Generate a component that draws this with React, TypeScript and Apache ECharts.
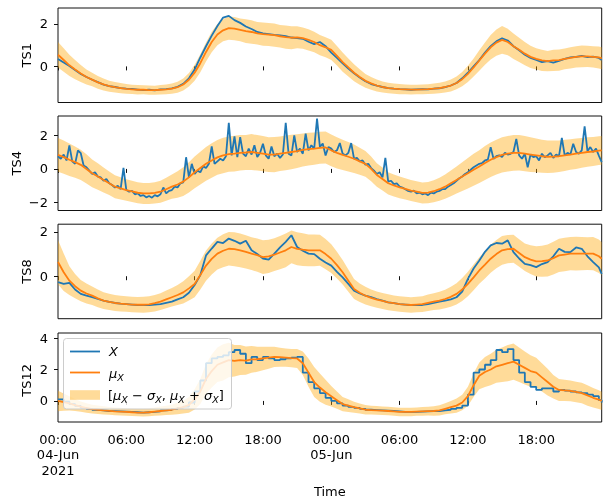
import React, { useEffect, useRef } from "react";
import * as echarts from "echarts";

// time in hours since 2021-06-04 00:00 (30-min samples, last at 23:45 on 05-Jun)
const TIME_H = Array.from({ length: 97 }, (_, i) => Math.min(i * 0.5, 47.75));
// 15-min timestamps (used for the spiky TS4 observations)
const TIME_Q = Array.from({ length: 192 }, (_, i) => i * 0.25);
const X_TICKS = [0, 6, 12, 18, 24, 30, 36, 42];
const X_TICK_LABELS = ["00:00\n04-Jun\n2021", "06:00", "12:00", "18:00", "00:00\n05-Jun", "06:00", "12:00", "18:00"];
const PANEL_NAMES = ["TS1", "TS4", "TS8", "TS12"];
const Y_RANGES = [[-1.7, 2.75], [-2.46, 3.13], [-1.92, 2.35], [-1.34, 4.32]];
const Y_TICKS = [[0, 2], [-2, 0, 2], [0, 2], [0, 2, 4]];

const TS1_X = [0.35, 0.18, 0.02, -0.17, -0.36, -0.5, -0.63, -0.74, -0.86, -0.93,
  -0.97, -1.02, -1.05, -1.06, -1.09, -1.12, -1.1, -1.13, -1.08, -1.07,
  -1.03, -0.96, -0.82, -0.56, -0.15, 0.42, 0.95, 1.45, 1.9, 2.3,
  2.38, 2.18, 2.05, 1.88, 1.76, 1.62, 1.56, 1.52, 1.48, 1.46,
  1.42, 1.36, 1.33, 1.3, 1.16, 1.05, 1.15, 0.95, 0.65, 0.4,
  0.14, -0.1, -0.32, -0.52, -0.7, -0.83, -0.91, -0.97, -1.02, -1.05,
  -1.07, -1.08, -1.1, -1.08, -1.07, -1.08, -1.05, -1.03, -0.98, -0.9,
  -0.78, -0.56, -0.3, 0.0, 0.3, 0.65, 0.95, 1.18, 1.32, 1.22,
  0.95, 0.76, 0.55, 0.4, 0.3, 0.2, 0.25, 0.18, 0.26, 0.35,
  0.42, 0.45, 0.5, 0.44, 0.46, 0.4, 0.3];
const TS1_MU = [0.55, 0.3, 0.05, -0.15, -0.33, -0.5, -0.62, -0.75, -0.85, -0.93,
  -0.98, -1.02, -1.06, -1.08, -1.1, -1.1, -1.12, -1.12, -1.1, -1.08,
  -1.05, -0.98, -0.85, -0.63, -0.3, 0.15, 0.68, 1.15, 1.5, 1.7,
  1.8, 1.78, 1.72, 1.66, 1.62, 1.56, 1.52, 1.5, 1.47, 1.42,
  1.38, 1.35, 1.37, 1.33, 1.25, 1.15, 1.0, 0.9, 0.78, 0.5,
  0.2, -0.05, -0.3, -0.5, -0.68, -0.8, -0.9, -0.97, -1.02, -1.05,
  -1.07, -1.08, -1.09, -1.09, -1.08, -1.07, -1.05, -1.02, -0.97, -0.9,
  -0.78, -0.6, -0.35, -0.05, 0.28, 0.6, 0.9, 1.12, 1.25, 1.15,
  0.95, 0.78, 0.6, 0.45, 0.35, 0.28, 0.25, 0.28, 0.3, 0.35,
  0.4, 0.45, 0.47, 0.47, 0.45, 0.42, 0.38];
const TS1_SIG = [0.6, 0.55, 0.5, 0.45, 0.4, 0.35, 0.32, 0.3, 0.28, 0.26,
  0.25, 0.24, 0.23, 0.22, 0.22, 0.21, 0.22, 0.21, 0.22, 0.23,
  0.24, 0.26, 0.28, 0.32, 0.38, 0.42, 0.45, 0.48, 0.5, 0.52,
  0.55, 0.55, 0.54, 0.56, 0.55, 0.53, 0.55, 0.54, 0.55, 0.53,
  0.55, 0.54, 0.52, 0.5, 0.5, 0.48, 0.48, 0.47, 0.48, 0.46,
  0.45, 0.42, 0.4, 0.36, 0.32, 0.3, 0.28, 0.26, 0.25, 0.24,
  0.24, 0.23, 0.23, 0.22, 0.23, 0.23, 0.24, 0.25, 0.26, 0.28,
  0.3, 0.34, 0.38, 0.42, 0.48, 0.52, 0.58, 0.62, 0.65, 0.62,
  0.6, 0.57, 0.55, 0.52, 0.5, 0.5, 0.48, 0.5, 0.5, 0.49,
  0.5, 0.5, 0.51, 0.5, 0.5, 0.52, 0.52];

// TS4 observations at 15-min resolution
const TS4_X = [0.75, 0.6, 0.85, 0.5, 1.39, 0.45, 0.3, 1.09,
  0.93, 0.2, 0.1, -0.1, -0.3, -0.2, -0.45, -0.5,
  -0.7, -0.6, -0.85, -0.95, -1.1, -1.0, -1.2, 0.06,
  -1.25, -1.35, -1.3, -1.5, -1.45, -1.6, -1.55, -1.68,
  -1.6, -1.7, -1.55, -1.62, -1.5, -1.1, -1.45, -1.3,
  -1.25, -1.05, -1.1, -0.85, -0.8, 0.69, -0.5, 0.3,
  -0.3, -0.1, -0.2, 0.15, 0.05, 0.3, 1.33, 0.3,
  0.45, 0.6, 0.5, 0.75, 2.72, 0.8, 1.93, 0.7,
  1.88, 0.9, 0.75, 1.2, 0.85, 1.4, 0.7, 0.95,
  1.49, 0.8, 0.6, 1.33, 0.75, 0.9, 0.65, 0.85,
  2.72, 0.9, 0.8, 1.98, 1.0, 1.2, 0.9, 2.08,
  1.1, 1.4, 1.2, 2.97, 1.3, 1.5, 0.79, 1.3,
  1.2, 1.0, 1.1, 1.53, 0.9, 0.8, 0.95, 1.53,
  0.6, 0.65, 0.45, 0.5, 0.25, 0.3, 0.05, -0.1,
  -0.3, -0.2, -0.5, 0.65, -0.75, -0.7, -0.9, -0.85,
  -1.05, -1.1, -1.2, -1.3, -1.35, -1.28, -1.45, -1.4,
  -1.5, -1.45, -1.55, -1.4, -1.45, -1.35, -1.3, -1.2,
  -1.2, -1.05, -0.95, -0.85, -0.7, -0.55, -0.45, -0.3,
  -0.2, -0.05, 0.1, 0.2, 0.3, 0.35, 0.5, 0.55,
  1.29, 0.6, 0.75, 0.8, 0.7, 0.95, 0.85, 0.89,
  1.0, 1.78, 0.8, 0.6, 0.9, 0.1, 0.85, 0.7,
  0.75, 0.5, 0.9, 0.69, 0.8, 0.95, 0.65, 0.85,
  0.75, 1.84, 0.8, 0.95, 0.85, 1.49, 1.0, 0.9,
  1.1, 2.52, 1.05, 1.29, 1.0, 1.2, 0.79, 0.4];
const TS4_MU = [0.83, 0.7, 0.54, 0.4, 0.24, 0.0, -0.26, -0.45, -0.65, -0.85,
  -1.05, -1.15, -1.25, -1.33, -1.41, -1.45, -1.45, -1.42, -1.35, -1.2,
  -1.05, -0.92, -0.75, -0.5, -0.2, 0.05, 0.3, 0.5, 0.68, 0.8,
  0.87, 0.9, 0.95, 0.97, 1.0, 0.95, 0.9, 0.85, 0.85, 0.9,
  0.95, 1.0, 1.05, 1.12, 1.17, 1.2, 1.25, 1.27, 1.1, 0.95,
  0.83, 0.72, 0.6, 0.45, 0.3, 0.0, -0.36, -0.6, -0.85, -0.98,
  -1.09, -1.18, -1.28, -1.35, -1.42, -1.4, -1.32, -1.2, -1.05, -0.85,
  -0.65, -0.45, -0.26, -0.05, 0.14, 0.35, 0.54, 0.7, 0.83, 0.9,
  0.95, 0.95, 0.9, 0.85, 0.8, 0.75, 0.72, 0.73, 0.75, 0.8,
  0.85, 0.9, 0.95, 1.0, 1.03, 1.08, 1.1];
const TS4_SIG = [1.0, 0.98, 0.96, 0.93, 0.9, 0.86, 0.82, 0.78, 0.74, 0.7,
  0.68, 0.66, 0.64, 0.63, 0.62, 0.62, 0.62, 0.63, 0.65, 0.68,
  0.72, 0.78, 0.85, 0.9, 0.94, 0.97, 1.0, 1.02, 1.03, 1.05,
  1.04, 1.06, 1.05, 1.04, 1.06, 1.05, 1.04, 1.03, 1.04, 1.02,
  1.03, 1.02, 1.0, 0.98, 0.97, 0.96, 0.95, 0.95, 0.94, 0.92,
  0.9, 0.87, 0.84, 0.8, 0.76, 0.73, 0.7, 0.68, 0.66, 0.65,
  0.64, 0.63, 0.62, 0.62, 0.62, 0.63, 0.65, 0.68, 0.72, 0.76,
  0.8, 0.85, 0.9, 0.94, 0.97, 1.0, 1.02, 1.03, 1.04, 1.05,
  1.06, 1.05, 1.04, 1.03, 1.0, 0.98, 0.96, 0.95, 0.93, 0.92,
  0.9, 0.9, 0.88, 0.87, 0.86, 0.85, 0.85];

const TS8_X = [-0.27, -0.35, -0.3, -0.6, -0.8, -0.88, -0.95, -1.03, -1.1, -1.16,
  -1.21, -1.24, -1.26, -1.28, -1.3, -1.31, -1.3, -1.28, -1.26, -1.2,
  -1.15, -1.05, -0.95, -0.75, -0.4, 0.05, 0.94, 1.25, 1.55, 1.5,
  1.7, 1.6, 1.47, 1.6, 1.17, 1.0, 0.8, 0.75, 1.02, 1.3,
  1.55, 1.85, 1.32, 1.15, 1.02, 1.0, 0.79, 0.62, 0.48, 0.2,
  -0.05, -0.35, -0.65, -0.78, -0.88, -0.95, -1.03, -1.1, -1.18, -1.22,
  -1.26, -1.28, -1.3, -1.3, -1.3, -1.26, -1.21, -1.15, -1.1, -1.05,
  -0.95, -0.7, -0.12, 0.35, 0.71, 1.1, 1.39, 1.5, 1.47, 1.62,
  1.09, 0.8, 0.56, 0.5, 0.41, 0.55, 0.64, 0.9, 1.24, 1.1,
  1.09, 1.3, 1.24, 0.9, 0.64, 0.4, 0.1];
const TS8_MU = [0.64, 0.18, -0.2, -0.45, -0.65, -0.78, -0.88, -1.0, -1.1, -1.16,
  -1.21, -1.24, -1.26, -1.28, -1.29, -1.29, -1.27, -1.22, -1.15, -1.05,
  -0.95, -0.85, -0.73, -0.55, -0.35, 0.05, 0.48, 0.78, 1.02, 1.15,
  1.24, 1.22, 1.17, 1.1, 1.02, 0.95, 0.86, 0.9, 0.97, 1.07,
  1.17, 1.32, 1.24, 1.2, 1.17, 1.17, 1.17, 1.0, 0.79, 0.5,
  0.18, -0.2, -0.58, -0.75, -0.88, -0.98, -1.06, -1.12, -1.18, -1.22,
  -1.26, -1.28, -1.3, -1.28, -1.26, -1.2, -1.15, -1.1, -1.03, -0.93,
  -0.8, -0.6, -0.35, -0.05, 0.26, 0.52, 0.79, 1.0, 1.17, 1.22,
  1.24, 1.05, 0.86, 0.75, 0.67, 0.68, 0.71, 0.82, 0.94, 0.98,
  1.02, 1.02, 1.02, 1.02, 1.02, 0.9, 0.79];
const TS8_SIG = [1.0, 0.85, 0.65, 0.55, 0.48, 0.45, 0.42, 0.4, 0.38, 0.37,
  0.36, 0.36, 0.35, 0.35, 0.35, 0.36, 0.36, 0.37, 0.38, 0.4,
  0.42, 0.45, 0.5, 0.55, 0.6, 0.65, 0.68, 0.7, 0.72, 0.75,
  0.76, 0.77, 0.76, 0.75, 0.74, 0.75, 0.76, 0.75, 0.74, 0.75,
  0.76, 0.74, 0.75, 0.74, 0.72, 0.72, 0.7, 0.68, 0.65, 0.6,
  0.55, 0.5, 0.45, 0.42, 0.4, 0.38, 0.37, 0.36, 0.36, 0.35,
  0.35, 0.35, 0.35, 0.35, 0.36, 0.37, 0.38, 0.4, 0.42, 0.45,
  0.48, 0.52, 0.55, 0.58, 0.6, 0.62, 0.63, 0.64, 0.65, 0.64,
  0.63, 0.62, 0.62, 0.65, 0.68, 0.7, 0.72, 0.74, 0.75, 0.76,
  0.75, 0.76, 0.75, 0.74, 0.75, 0.76, 0.75];

const TS12_X = [0.1, -0.05, -0.2, -0.32, -0.44, -0.5, -0.56, -0.6, -0.64, -0.65,
  -0.66, -0.68, -0.7, -0.72, -0.74, -0.72, -0.7, -0.66, -0.6, -0.56,
  -0.5, -0.44, -0.36, -0.1, 0.6, 1.3, 2.4, 2.7, 2.8, 2.9,
  3.1, 3.24, 3.0, 2.4, 2.8, 2.6, 2.8, 2.7, 2.6, 2.65,
  2.7, 2.75, 2.8, 1.8, 1.2, 0.8, 0.5, 0.2, 0.0, -0.15,
  -0.3, -0.38, -0.44, -0.5, -0.56, -0.58, -0.6, -0.62, -0.64, -0.67,
  -0.7, -0.7, -0.7, -0.68, -0.66, -0.65, -0.64, -0.6, -0.56, -0.5,
  -0.44, -0.3, 0.4, 1.8, 2.0, 2.3, 2.6, 3.24, 3.1, 3.3,
  2.6, 1.8, 1.2, 0.9, 0.7, 0.8, 0.8, 0.6, 0.7, 0.65,
  0.6, 0.55, 0.5, 0.4, 0.3, 0.05, -0.1];
const TS12_MU = [0.0, -0.08, -0.16, -0.26, -0.36, -0.45, -0.52, -0.56, -0.6, -0.63,
  -0.66, -0.68, -0.7, -0.72, -0.74, -0.74, -0.72, -0.68, -0.64, -0.6,
  -0.56, -0.48, -0.4, -0.25, 0.1, 0.6, 1.4, 1.9, 2.3, 2.45,
  2.6, 2.55, 2.6, 2.56, 2.64, 2.65, 2.7, 2.75, 2.8, 2.78,
  2.76, 2.72, 2.7, 2.4, 1.8, 1.2, 0.85, 0.55, 0.3, 0.05,
  -0.2, -0.3, -0.4, -0.48, -0.56, -0.58, -0.6, -0.62, -0.64, -0.67,
  -0.7, -0.7, -0.7, -0.68, -0.66, -0.65, -0.64, -0.6, -0.5, -0.4,
  -0.3, -0.1, 0.3, 1.0, 1.6, 1.84, 2.0, 2.2, 2.3, 2.4,
  2.5, 2.3, 2.1, 1.9, 1.8, 1.5, 1.2, 0.9, 0.7, 0.67,
  0.64, 0.57, 0.5, 0.35, 0.2, 0.08, 0.0];
const TS12_SIG = [0.65, 0.55, 0.45, 0.38, 0.33, 0.3, 0.28, 0.27, 0.26, 0.25,
  0.25, 0.25, 0.24, 0.24, 0.24, 0.25, 0.25, 0.26, 0.28, 0.3,
  0.32, 0.36, 0.4, 0.5, 0.65, 0.8, 0.95, 1.05, 1.1, 1.15,
  1.1, 1.0, 0.95, 0.9, 0.85, 0.8, 0.75, 0.7, 0.65, 0.6,
  0.58, 0.58, 0.6, 0.75, 0.9, 0.95, 0.9, 0.8, 0.65, 0.55,
  0.45, 0.4, 0.35, 0.32, 0.3, 0.28, 0.28, 0.27, 0.27, 0.27,
  0.27, 0.27, 0.27, 0.27, 0.28, 0.28, 0.3, 0.32, 0.35, 0.4,
  0.45, 0.5, 0.6, 0.75, 0.85, 0.95, 1.0, 1.05, 1.1, 1.15,
  1.15, 1.1, 1.05, 1.0, 0.95, 0.9, 0.85, 0.75, 0.7, 0.68,
  0.66, 0.65, 0.65, 0.65, 0.62, 0.6, 0.58];

const PANEL_X = [TS1_X, TS4_X, TS8_X, TS12_X];
const PANEL_X_TIME = [TIME_H, TIME_Q, TIME_H, TIME_H];
const PANEL_MU = [TS1_MU, TS4_MU, TS8_MU, TS12_MU];
const PANEL_SIG = [TS1_SIG, TS4_SIG, TS8_SIG, TS12_SIG];

const FONT = "DejaVu Sans";
const BLUE = "#1f77b4";
const ORANGE = "#ff7f0e";
const BAND = "rgba(255,165,0,0.4)";

export default function App() {
  const ref = useRef<HTMLDivElement>(null);
  useEffect(() => {
    if (!ref.current) return;
    const chart = echarts.init(ref.current, undefined, { renderer: "svg" });
    const tops = [8, 116, 224.2, 333];
    const height = 94.5;
    const grids = tops.map((t) => ({
      left: 58, right: 1.3, top: t, height,
      show: true, borderColor: "#111", borderWidth: 1, backgroundColor: "transparent",
    }));
    const xAxes = tops.map((_, k) => ({
      type: "value", gridIndex: k, min: 0, max: 47.75,
      axisLine: { show: false },
      splitLine: { show: false },
      axisTick: { show: true, customValues: X_TICKS, length: 4, lineStyle: { color: "#111", width: 1 } },
      axisLabel: {
        show: k === 3, customValues: X_TICKS, margin: 9.5,
        fontFamily: FONT, fontSize: 13, color: "#000", lineHeight: 15.5,
        formatter: (v: number) => X_TICK_LABELS[X_TICKS.indexOf(v)] ?? "",
      },
      name: k === 3 ? "Time" : "",
      nameLocation: "middle", nameGap: 63,
      nameMoveOverlap: false,
      nameTextStyle: { fontFamily: FONT, fontSize: 13, color: "#000" },
    }));
    const yAxes = tops.map((_, k) => ({
      type: "value", gridIndex: k, min: Y_RANGES[k][0], max: Y_RANGES[k][1],
      axisLine: { show: false },
      splitLine: { show: false },
      axisTick: { show: true, customValues: Y_TICKS[k], length: 4, lineStyle: { color: "#111", width: 1 } },
      axisLabel: {
        show: true, customValues: Y_TICKS[k], margin: 10,
        fontFamily: FONT, fontSize: 13, color: "#000",
        formatter: (v: number) => (v < 0 ? "\u2212" + Math.abs(v) : String(v)),
      },
    }));
    const series: any[] = [];
    for (let k = 0; k < 4; k++) {
      const mu = PANEL_MU[k], sig = PANEL_SIG[k], xs = PANEL_X[k], xt = PANEL_X_TIME[k];
      const bandData = TIME_H.map((t, i) => [t, mu[i] - sig[i], mu[i] + sig[i]]);
      series.push({
        type: "custom", xAxisIndex: k, yAxisIndex: k, silent: true, z: 1, clip: true,
        data: bandData,
        encode: { x: 0, y: [1, 2] },
        renderItem: (params: any, api: any) => {
          if (params.dataIndex !== 0) return null;
          const upper = bandData.map((d) => api.coord([d[0], d[2]]));
          const lower = bandData.map((d) => api.coord([d[0], d[1]])).reverse();
          return { type: "polygon", shape: { points: upper.concat(lower) }, style: { fill: BAND } };
        },
      });
      series.push({
        type: "line", xAxisIndex: k, yAxisIndex: k, name: "X",
        data: xt.map((t, i) => [t, xs[i]]),
        step: k === 3 ? "end" : false,
        symbol: "none", lineStyle: { width: 1.8, color: BLUE }, z: 2,
      });
      series.push({
        type: "line", xAxisIndex: k, yAxisIndex: k, name: "mu",
        data: TIME_H.map((t, i) => [t, mu[i]]),
        symbol: "none", lineStyle: { width: 1.8, color: ORANGE }, z: 3,
      });
    }
    // y-axis titles, placed like matplotlib's aligned ylabels
    const NAME_X = [26.7, 16.2, 26.7, 26.7];
    const yNames = tops.map((t, k) => ({
      type: "text", z: 50, x: NAME_X[k], y: t + height / 2, rotation: Math.PI / 2,
      style: { text: PANEL_NAMES[k], fontFamily: FONT, fontSize: 13, fill: "#000", align: "center", verticalAlign: "middle" },
    }));
    const rich = {
      i: { fontFamily: FONT, fontSize: 13, fontStyle: "italic", lineHeight: 18, fill: "#000" },
      r: { fontFamily: FONT, fontSize: 13, lineHeight: 18, fill: "#000" },
      s: { fontFamily: FONT, fontSize: 9.5, fontStyle: "italic", lineHeight: 9, verticalAlign: "bottom", fill: "#000" },
    };
    const legend = [
      { type: "rect", z: 100, shape: { x: 63.5, y: 338.5, width: 168, height: 70.5, r: 3 },
        style: { fill: "rgba(255,255,255,0.8)", stroke: "#cccccc", lineWidth: 1 } },
      { type: "line", z: 101, shape: { x1: 70, y1: 351.5, x2: 100, y2: 351.5 }, style: { stroke: BLUE, lineWidth: 1.8 } },
      { type: "line", z: 101, shape: { x1: 70, y1: 372.5, x2: 100, y2: 372.5 }, style: { stroke: ORANGE, lineWidth: 1.8 } },
      { type: "rect", z: 101, shape: { x: 70, y: 390.2, width: 30, height: 9.6 }, style: { fill: BAND } },
      { type: "text", z: 101, x: 109, y: 351.5,
        style: { text: "{i|X}", rich, verticalAlign: "middle", align: "left" } },
      { type: "text", z: 101, x: 109, y: 373,
        style: { text: "{i|\u03bc}{s|X}", rich, verticalAlign: "middle", align: "left" } },
      { type: "text", z: 101, x: 108, y: 395,
        style: { text: "{r|[}{i|\u03bc}{s|X}{r| \u2212 }{i|\u03c3}{s|X}{r|, }{i|\u03bc}{s|X}{r| + }{i|\u03c3}{s|X}{r|]}", rich, verticalAlign: "middle", align: "left" } },
    ];
    chart.setOption({
      animation: false,
      textStyle: { fontFamily: FONT },
      grid: grids,
      xAxis: xAxes,
      yAxis: yAxes,
      series,
      graphic: [...yNames, ...legend],
    });
    return () => chart.dispose();
  }, []);
  return <div ref={ref} style={{ position: "fixed", left: 0, top: 0, width: 603, height: 499 }} />;
}
